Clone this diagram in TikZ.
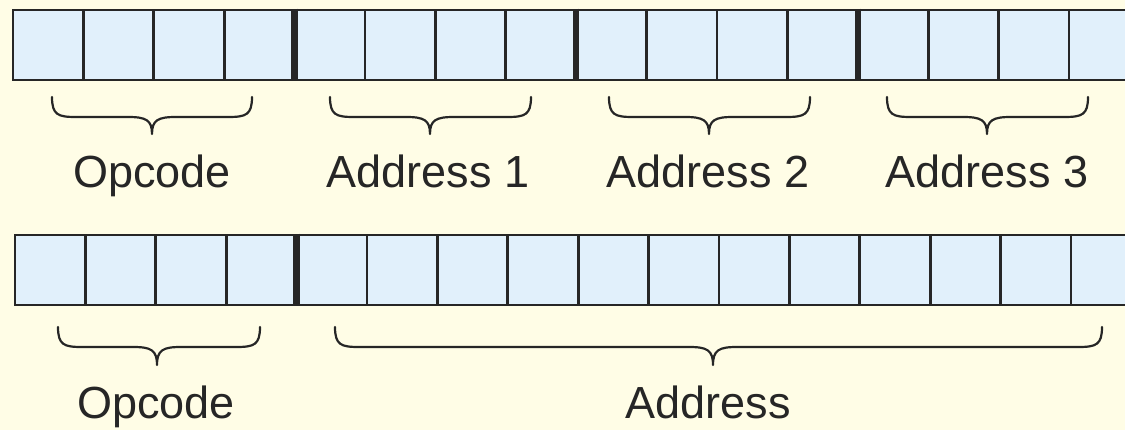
\documentclass[tikz,border=0pt]{standalone}
\usepackage{fontspec}
\setmainfont{Liberation Sans}
\definecolor{bg}{RGB}{255,253,230}
\definecolor{cellfill}{RGB}{225,240,251}
\definecolor{ink}{RGB}{38,38,38}
\newcommand\mybrace[6]{% x1 x2 xm ytop ymid ytip
  \draw[bracepath] (#1,#4) .. controls (#1,{#5-2}) and ({#1+6},#5) .. ({#1+24},#5)
    -- ({#3-24},#5) .. controls ({#3-6},#5) and (#3,{#5+3}) .. (#3,#6)
    .. controls (#3,{#5+3}) and ({#3+6},#5) .. ({#3+24},#5)
    -- ({#2-24},#5) .. controls ({#2-6},#5) and (#2,{#5-2}) .. (#2,#4);}
\begin{document}
\begin{tikzpicture}[x=1pt,y=-1pt,
  cell/.style={draw=ink, fill=cellfill, line width=2.7pt, minimum width=70.4pt,
    minimum height=70pt, inner sep=0pt, outer sep=0pt},
  sepline/.style={draw=ink, line width=6.5pt, shorten <=-1.3pt, shorten >=-1.3pt},
  bracepath/.style={draw=ink, line width=2.2pt, line cap=round, line join=round},
  lbl/.style={text=ink, font=\fontsize{45}{54}\selectfont, anchor=base, inner sep=0pt}]
\useasboundingbox (0,0) rectangle (1125,430);
\fill[bg] (0,0) rectangle (1125,430);
\clip (0,0) rectangle (1125,430);
\foreach \k in {1,...,16} {
  \node[cell] (t\k) at ({13+(\k-0.5)*70.4},45) {};
  \node[cell] (b\k) at ({15+(\k-0.5)*70.4},270) {};
}
\foreach \k in {4,8,12} \draw[sepline] (t\k.north east) -- (t\k.south east);
\draw[sepline] (b4.north east) -- (b4.south east);
% braces, top row
\mybrace{52}{252}{152}{97}{117}{134}
\mybrace{330}{531}{430}{97}{117}{134}
\mybrace{609}{810}{709}{97}{117}{134}
\mybrace{887}{1088}{987}{97}{117}{134}
% braces, bottom row
\mybrace{58}{260}{157}{327}{347}{365}
\mybrace{335}{1102}{713}{327}{347}{365}
% labels
\node[lbl] (l1) at (152,188) {Opcode};
\node[lbl] (l2) at (428,188) {Address 1};
\node[lbl] (l3) at (708,188) {Address 2};
\node[lbl] (l4) at (987,188) {Address 3};
\node[lbl] (l5) at (156,418) {Opcode};
\node[lbl] (l6) at (708,418) {Address};
\end{tikzpicture}
\end{document}
